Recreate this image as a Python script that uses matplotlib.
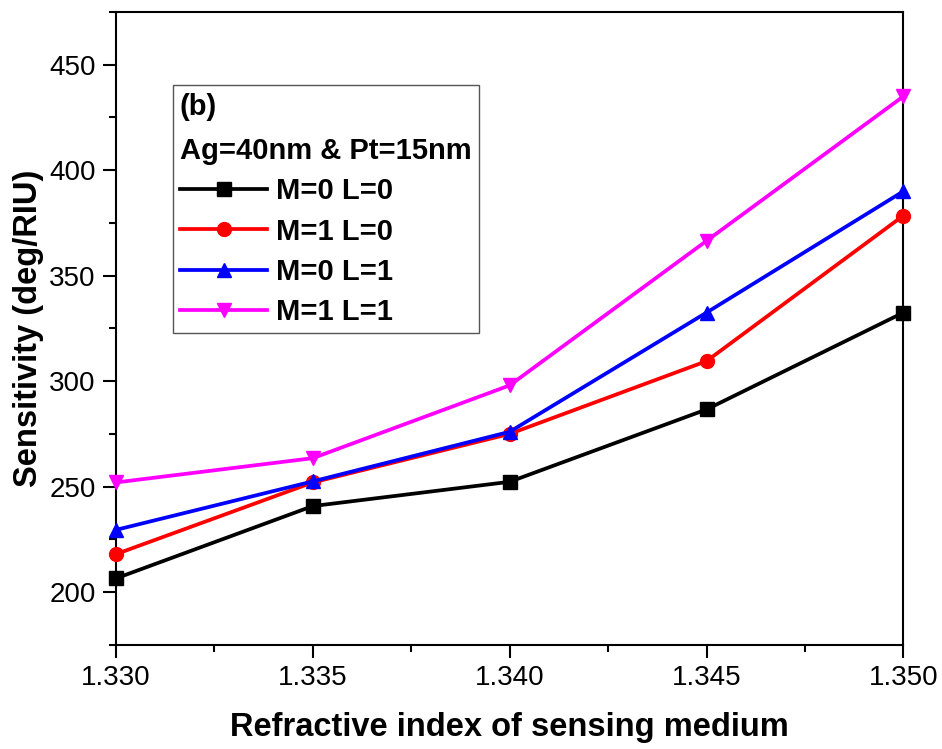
import numpy as np
import matplotlib
matplotlib.use("Agg")
import matplotlib.pyplot as plt
from matplotlib.ticker import MultipleLocator

plt.rcParams['font.family'] = ['Liberation Sans', 'DejaVu Sans']

# data
ri = [1.330, 1.335, 1.340, 1.345, 1.350]
m0_l0 = [206.5, 240.8, 252.3, 286.6, 332.5]
m1_l0 = [218.0, 252.0, 275.0, 309.5, 378.5]
m0_l1 = [229.5, 252.5, 276.0, 332.5, 390.0]
m1_l1 = [252.0, 263.5, 298.0, 366.5, 435.0]

labels = ['M=0 L=0', 'M=1 L=0', 'M=0 L=1', 'M=1 L=1']
colors = ['black', 'red', 'blue', 'magenta']
markers = ['s', 'o', '^', 'v']

fig = plt.figure(figsize=(9.42, 7.49), dpi=100)
ax = fig.add_axes([0.123, 0.139, 0.836, 0.845])

for ys, lab, c, m in zip([m0_l0, m1_l0, m0_l1, m1_l1], labels, colors, markers):
    ax.plot(ri, ys, color=c, marker=m, markersize=10, linewidth=2.7,
            label=lab, clip_on=False, zorder=3)

ax.set_xlim(1.330, 1.350)
ax.set_ylim(175, 475)
ax.xaxis.set_major_locator(MultipleLocator(0.005))
ax.xaxis.set_minor_locator(MultipleLocator(0.0025))
ax.yaxis.set_major_locator(MultipleLocator(50))
ax.yaxis.set_minor_locator(MultipleLocator(25))
ax.set_xticklabels(['{:.3f}'.format(v) for v in ax.get_xticks()])

ax.tick_params(which='both', direction='out', width=1.5, labelsize=20,
               top=False, right=False)
ax.tick_params(which='major', length=9.5, pad=5)
ax.tick_params(which='minor', length=5)
for s in ax.spines.values():
    s.set_linewidth(1.5)

ax.set_xlabel('Refractive index of sensing medium', fontsize=23.5,
              fontweight='bold', labelpad=15)
ax.set_ylabel('Sensitivity (deg/RIU)', fontsize=23.5, fontweight='bold',
              labelpad=4)

leg = ax.legend(loc='upper left', bbox_to_anchor=(0.072, 0.884),
                borderaxespad=0, fancybox=False, edgecolor='#555555',
                framealpha=1, handlelength=3.0, handletextpad=0.3,
                borderpad=0.25, labelspacing=0.42,
                prop={'size': 21, 'weight': 'bold'},
                title='(b)\nAg=40nm & Pt=15nm',
                title_fontproperties={'size': 21, 'weight': 'bold'},
                alignment='left')
leg.get_frame().set_linewidth(1.0)
leg.get_title().set_linespacing(1.75)

fig.savefig('out.png', dpi=100)
